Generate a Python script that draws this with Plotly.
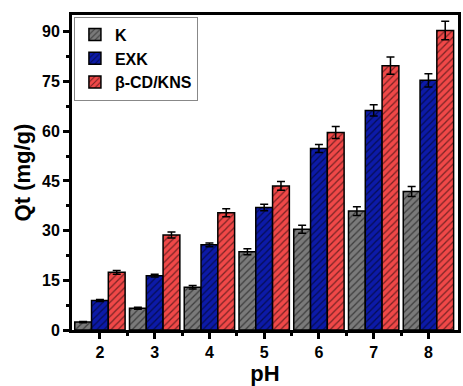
import plotly.graph_objects as go

ph = [2, 3, 4, 5, 6, 7, 8]
k_vals = [2.4, 6.6, 12.9, 23.6, 30.4, 35.9, 41.8]
k_err = [0.2, 0.3, 0.5, 0.9, 1.2, 1.3, 1.5]
exk_vals = [8.9, 16.4, 25.7, 37.0, 54.8, 66.3, 75.4]
exk_err = [0.3, 0.4, 0.6, 1.0, 1.2, 1.7, 2.0]
cd_vals = [17.4, 28.7, 35.4, 43.5, 59.6, 79.8, 90.4]
cd_err = [0.6, 0.9, 1.2, 1.3, 1.8, 2.6, 2.8]
names = ["K", "EXK", "β-CD/KNS"]
colors = ["#7a7a7a", "#0c1aa8", "#f04848"]

fig = go.Figure()
for name, vals, errs, col in zip(names, [k_vals, exk_vals, cd_vals], [k_err, exk_err, cd_err], colors):
    fig.add_trace(go.Bar(
        x=ph, y=vals, name=name,
        marker=dict(color=col, line=dict(color="black", width=1.5),
                    pattern=dict(shape="/", fgcolor="black", bgcolor=col, size=5, solidity=0.25, fillmode="overlay")),
        error_y=dict(type="data", array=errs, color="black", thickness=1.5, width=4),
    ))

font_family = "Liberation Sans, Arial, sans-serif"
fig.update_layout(
    width=463, height=386,
    margin=dict(l=72, r=2, t=15, b=56),
    plot_bgcolor="white", paper_bgcolor="white",
    barmode="group", bargap=0.08, bargroupgap=0,
    font=dict(family=font_family, color="black", size=15),
    showlegend=True,
    legend=dict(x=0.005, y=0.995, xanchor="left", yanchor="top",
                bordercolor="#888", borderwidth=1, bgcolor="white",
                font=dict(size=16, family=font_family, weight="bold"),
                tracegroupgap=0, itemwidth=30),
    xaxis=dict(range=[1.49, 8.54], tickvals=ph, ticktext=[str(p) for p in ph],
               showline=True, linecolor="black", linewidth=3, mirror=True,
               ticks="outside", ticklen=6, tickwidth=3, tickcolor="black",
               minor=dict(tickvals=[2.5, 3.5, 4.5, 5.5, 6.5, 7.5], ticks="outside", ticklen=3, tickwidth=3, tickcolor="black"),
               showgrid=False, zeroline=False,
               tickfont=dict(size=16, family=font_family, weight="bold"),
               title=dict(text="pH", font=dict(size=22, family=font_family, weight="bold"), standoff=3)),
    yaxis=dict(range=[0, 95.1], tickvals=[0, 15, 30, 45, 60, 75, 90],
               showline=True, linecolor="black", linewidth=3, mirror=True,
               ticks="outside", ticklen=6, tickwidth=3, tickcolor="black",
               minor=dict(tickvals=[7.5, 22.5, 37.5, 52.5, 67.5, 82.5], ticks="outside", ticklen=3, tickwidth=3, tickcolor="black"),
               showgrid=False, zeroline=False,
               tickfont=dict(size=16, family=font_family, weight="bold"),
               title=dict(text="Qt (mg/g)", font=dict(size=22, family=font_family, weight="bold"), standoff=6)),
)

fig.write_html("out.html", config={"displayModeBar": False},
               post_script="document.body.style.margin='0';document.body.style.overflow='hidden';")
